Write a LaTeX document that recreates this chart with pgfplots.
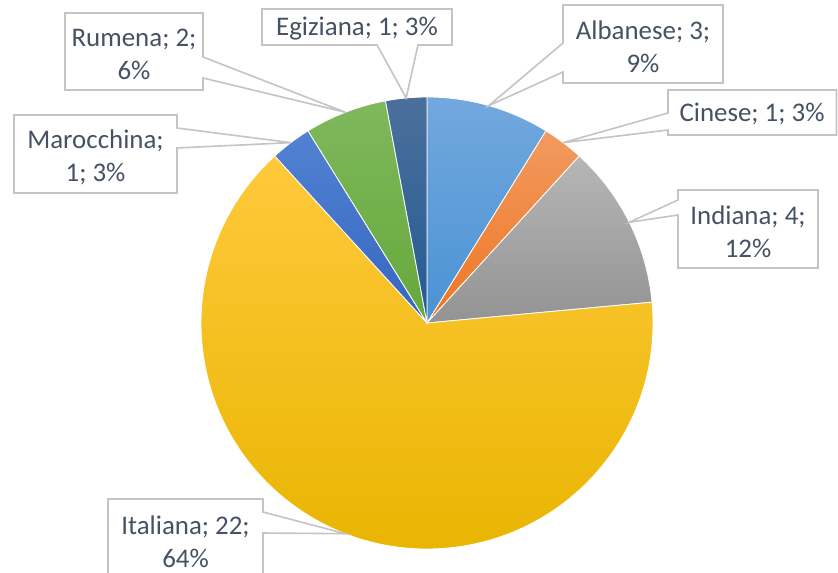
\documentclass[border=0pt]{standalone}
\usepackage{pgfplots}
\pgfplotsset{compat=1.18}
\usepackage{fontspec}
\setmainfont{Carlito}
\definecolor{albT}{HTML}{72A8DE}\definecolor{albB}{HTML}{4A92D4}
\definecolor{cinT}{HTML}{F29A60}\definecolor{cinB}{HTML}{EE7622}
\definecolor{indT}{HTML}{B6B6B6}\definecolor{indB}{HTML}{939393}
\definecolor{itaT}{HTML}{FFC93C}\definecolor{itaB}{HTML}{E8B500}
\definecolor{marT}{HTML}{5282D2}\definecolor{marB}{HTML}{3466C0}
\definecolor{rumT}{HTML}{80B85C}\definecolor{rumB}{HTML}{64A83C}
\definecolor{egiT}{HTML}{4C6F9C}\definecolor{egiB}{HTML}{225B93}
\definecolor{boxgray}{HTML}{C4C4C4}
\definecolor{labelc}{HTML}{465263}
\begin{document}
\begin{tikzpicture}
\begin{axis}[scale only axis, width=838bp, height=573bp,
  xmin=0, xmax=838, ymin=0, ymax=573, y dir=reverse,
  hide axis, clip=false]
\addplot[draw=none] coordinates {(0,0) (838,573)};
\pgfplotsextra{
  % data: value / colour / key
  \gdef\total{0}
  \foreach \v in {3,1,4,22,1,2,1}{\pgfmathsetmacro\t{\total+\v}\xdef\total{\t}}
  \gdef\cur{90}
  \foreach \v/\c/\n in {3/alb/A,1/cin/B,4/ind/C,22/ita/D,1/mar/E,2/rum/F,1/egi/G}{
    \pgfmathsetmacro\ea{\cur-\v*360/\total}
    \pgfmathsetmacro\ma{(\cur+\ea)/2}
    \expandafter\xdef\csname mid\n\endcsname{\ma}
    \shadedraw[top color=\c T, bottom color=\c B, draw=white, line width=0.8bp]
      (axis cs:427,323) -- ++(\cur:226bp) arc[start angle=\cur, end angle=\ea, radius=226bp] -- cycle;
    \xdef\cur{\ea}
  }
  \tikzset{callout/.style={fill=white, draw=boxgray, line width=1.6bp, line join=miter}}
  % Albanese
  \filldraw[callout] (axis cs:427,323) ++(\midA:226bp) -- (axis cs:563,72) -- (axis cs:563,83) -- (axis cs:723,83) -- (axis cs:723,5) -- (axis cs:563,5) -- (axis cs:563,43) -- cycle;
  % Cinese
  \filldraw[callout] (axis cs:427,323) ++(\midB:226bp) -- (axis cs:668,130) -- (axis cs:668,135) -- (axis cs:836.5,135) -- (axis cs:836.5,90) -- (axis cs:668,90) -- (axis cs:668,113) -- cycle;
  % Indiana
  \filldraw[callout] (axis cs:427,323) ++(\midC:226bp) -- (axis cs:678,215) -- (axis cs:678,268) -- (axis cs:818,268) -- (axis cs:818,190) -- (axis cs:678,190) -- (axis cs:678,200) -- cycle;
  % Italiana
  \filldraw[callout] (axis cs:427,323) ++(\midD:226bp) -- (axis cs:263,533) -- (axis cs:263,590) -- (axis cs:108,590) -- (axis cs:108,499) -- (axis cs:263,499) -- (axis cs:263,512) -- cycle;
  % Marocchina
  \filldraw[callout] (axis cs:427,323) ++(\midE:226bp) -- (axis cs:177,148) -- (axis cs:177,193) -- (axis cs:14,193) -- (axis cs:14,115) -- (axis cs:177,115) -- (axis cs:177,128) -- cycle;
  % Rumena
  \filldraw[callout] (axis cs:427,323) ++(\midF:226bp) -- (axis cs:203,78) -- (axis cs:203,90) -- (axis cs:65,90) -- (axis cs:65,13) -- (axis cs:203,13) -- (axis cs:203,57) -- cycle;
  % Egiziana
  \filldraw[callout] (axis cs:427,323) ++(\midG:226bp) -- (axis cs:418,45) -- (axis cs:452,45) -- (axis cs:452,9) -- (axis cs:262,9) -- (axis cs:262,45) -- (axis cs:377,45) -- cycle;
  \tikzset{lab/.style={text=labelc, align=center, inner sep=0pt, font=\fontsize{27}{33}\selectfont}}
  \node[lab] at (axis cs:643,47) {Albanese; 3;\\9\%};
  \node[lab] at (axis cs:752,114) {Cinese; 1; 3\%};
  \node[lab] at (axis cs:748,232) {Indiana; 4;\\12\%};
  \node[lab] at (axis cs:185.5,542) {Italiana; 22;\\64\%};
  \node[lab] at (axis cs:95.5,157) {Marocchina;\\1; 3\%};
  \node[lab] at (axis cs:134,54) {Rumena; 2;\\6\%};
  \node[lab] at (axis cs:357,29) {Egiziana; 1; 3\%};
}
\end{axis}
\pgfresetboundingbox
\useasboundingbox (0,0) rectangle (838bp,573bp);
\end{tikzpicture}
\end{document}
